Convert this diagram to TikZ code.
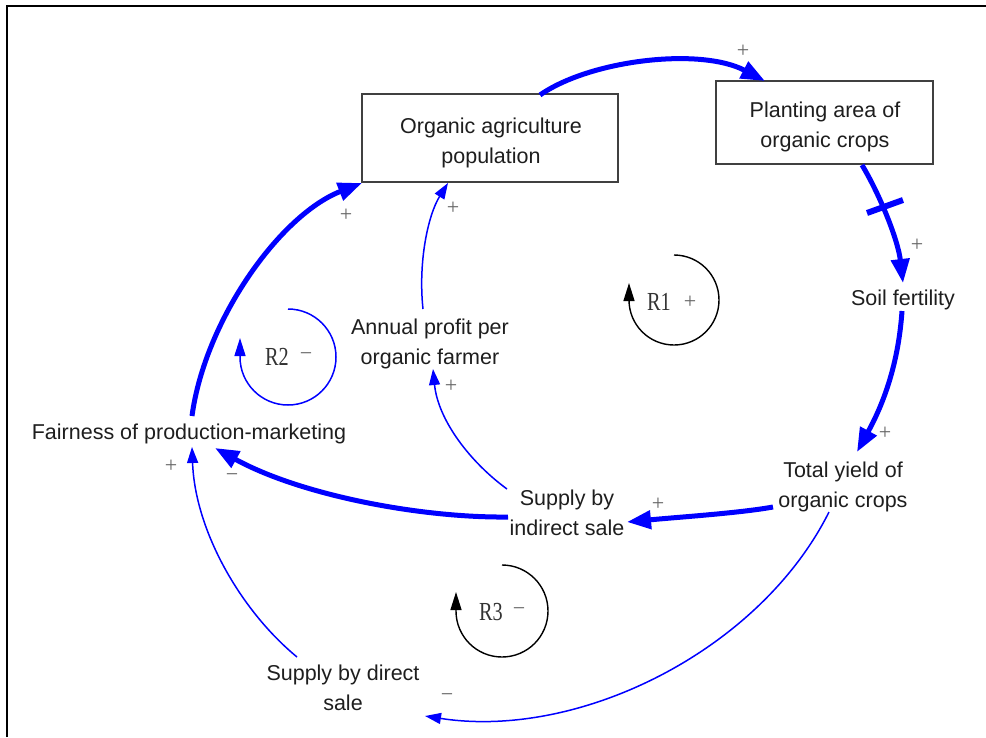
\documentclass[tikz,border=0pt]{standalone}
\usepackage{fontspec}
\setmainfont{Liberation Sans}
\newfontfamily\serifR[FakeStretch=0.78]{Liberation Serif}
\newfontfamily\serifP{Liberation Serif}
\usetikzlibrary{arrows.meta,calc}
\definecolor{lnblue}{RGB}{0,0,255}
\definecolor{txt}{RGB}{30,30,30}
\begin{document}
\begin{tikzpicture}[x=1pt,y=-1pt,
  var/.style={font=\fontsize{21.5}{29.5}\selectfont, text=txt, align=center, inner sep=0pt},
  box/.style={draw=black!75, line width=1.4pt, minimum width=256pt, minimum height=88pt, inner sep=0pt},
  thicklink/.style={draw=lnblue, line width=5pt, -{Triangle[length=24pt,width=18pt]}},
  thinlink/.style={draw=lnblue, line width=1.5pt, -{Triangle[length=16pt,width=11pt]}},
  pol/.style={font=\serifP\fontsize{22}{22}\selectfont, text=black!60, inner sep=0pt},
  loopmark/.style={line width=1.4pt, -{Triangle[length=18pt,width=11pt]}},
  looplabel/.style={font=\serifR\fontsize{26}{26}\selectfont, text=black!80, inner sep=0pt}]
\useasboundingbox (0,0) rectangle (986,737);
\fill[white] (0,0) rectangle (986,737);
% frame
\draw[line width=2pt] (7,737) -- (7,6) -- (986,6);

% variables
\node[box] (org) at (490,138) {};
\node[var] (orgtxt) at (491,143) {Organic agriculture\\population};
\node[box, minimum width=217pt, minimum height=83pt] (plant) at (824.5,122.5) {};
\node[var] (planttxt) at (825,127) {Planting area of\\organic crops};
\node[var] (soil) at (903,300) {Soil fertility};
\node[var] (yield) at (843,487) {Total yield of\\organic crops};
\node[var] (indirect) at (567,513) {Supply by\\indirect sale};
\node[var] (fair) at (189,434) {Fairness of production-marketing};
\node[var] (profit) at (430,344) {Annual profit per\\organic farmer};
\node[var] (direct) at (343,688) {Supply by direct\\sale};

% links
\draw[thicklink] ($(org)+(50,-43)$) .. controls (590,60) and (700,47) .. ($(plant)+(-59.5,-41.5)$);
\draw[thicklink] ($(plant)+(37.5,42.5)$) .. controls (880,195) and (898,240) .. ($(soil)+(0,-17)$);
\draw[thicklink] ($(soil)+(-1,11)$) .. controls (898,370) and (880,410) .. ($(yield)+(14,-35)$);
\draw[thicklink] ($(yield)+(-70,20)$) .. controls (740,513) and (680,517) .. ($(indirect)+(60,9)$);
\draw[thicklink] ($(indirect)+(-59,4)$) .. controls (420,518) and (300,495) .. ($(fair)+(26,14)$);
\draw[thinlink] ($(indirect)+(-60,-24)$) .. controls (470,462) and (438,420) .. ($(profit)+(3,25)$);
\draw[thinlink] ($(profit)+(-7,-35)$) .. controls (418,262) and (428,215) .. ($(org)+(-42,45)$);
\draw[thicklink] ($(fair)+(3,-18)$) .. controls (205,320) and (280,215) .. ($(org)+(-128,45)$);
\draw[thinlink] ($(direct)+(-46,-31)$) .. controls (240,610) and (195,530) .. ($(fair)+(3,13)$);
\draw[thinlink] ($(yield)+(-14,25)$) .. controls (760,650) and (580,740) .. ($(direct)+(82,28)$);

% delay mark
\draw[lnblue, line width=6pt] (867,213) -- (903,200);

% polarities
\node[pol] (p1) at (743,51) {+};
\node[pol] (p2) at (917,245) {+};
\node[pol] (p3) at (885,433) {+};
\node[pol] (p4) at (658,504) {+};
\node[pol] (p5) at (232,478) {−};
\node[pol] (p6) at (451,386) {+};
\node[pol] (p7) at (453,208) {+};
\node[pol] (p8) at (346,215) {+};
\node[pol] (p9) at (171,466) {+};
\node[pol] (p10) at (447,698) {−};

% loop markers
\draw[loopmark] (674,255) arc[start angle=-90, end angle=180, radius=45] -- ++(0,-17);
\node[looplabel] (r1) at (659,302) {R1};
\node[pol] (r1s) at (690,302) {+};
\draw[loopmark, lnblue, line width=1.5pt] (288,309) arc[start angle=-90, end angle=180, radius=48] -- ++(0,-19);
\node[looplabel] (r2) at (277,357) {R2};
\node[pol] (r2s) at (306,357) {−};
\draw[loopmark] (502,565) arc[start angle=-90, end angle=180, radius=46] -- ++(0,-19);
\node[looplabel] (r3) at (491,612) {R3};
\node[pol] (r3s) at (519,612) {−};
\end{tikzpicture}
\end{document}
